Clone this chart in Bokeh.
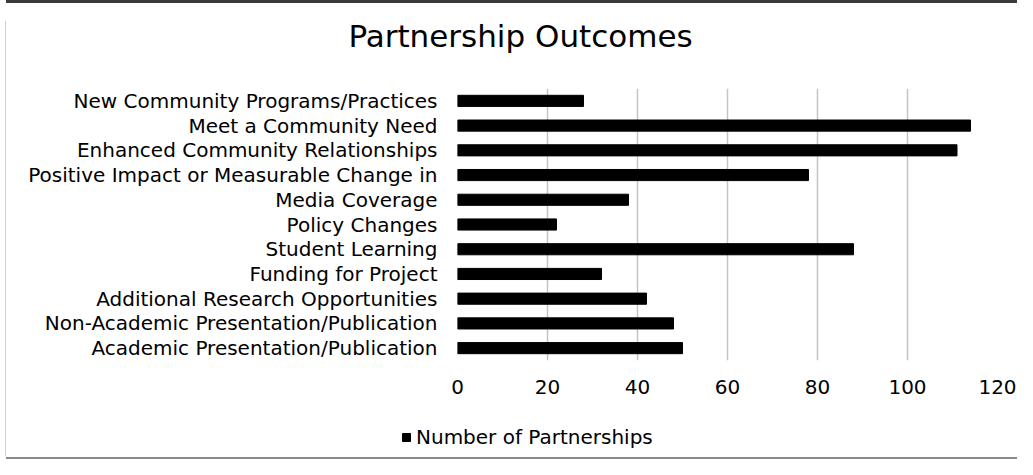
from bokeh.plotting import figure
from bokeh.models import FactorRange, Range1d, Legend, LegendItem, ColumnDataSource, Div, Label
from bokeh.layouts import column, row
from bokeh.embed import file_html
from bokeh.resources import INLINE

title_text = "Partnership Outcomes"
series_name = "Number of Partnerships"
categories = ["New Community Programs/Practices", "Meet a Community Need",
              "Enhanced Community Relationships", "Positive Impact or Measurable Change in",
              "Media Coverage", "Policy Changes", "Student Learning", "Funding for Project",
              "Additional Research Opportunities", "Non-Academic Presentation/Publication",
              "Academic Presentation/Publication"]
values = [28, 114, 111, 78, 38, 22, 88, 32, 42, 48, 50]
x_ticks = [0, 20, 40, 60, 80, 100, 120]

FONT = "DejaVu Sans"
BAR_COLOR = "black"

src = ColumnDataSource(dict(cat=categories, val=values))

# title strip (its own canvas so the title can sit where the reference puts it)
tf = figure(width=1011, height=60, output_backend="svg", toolbar_location=None,
            x_range=Range1d(0, 1), y_range=Range1d(0, 1), x_axis_type=None, y_axis_type=None,
            min_border=0, margin=0)
tf.outline_line_color = None
tf.border_fill_color = "white"
tf.background_fill_color = "white"
tf.add_layout(Label(x=514, y=28, x_units="screen", y_units="screen", text=title_text,
                    text_font=FONT, text_font_size="31px", text_color="black",
                    text_align="center", text_baseline="middle"))

p = figure(width=1011, height=342, output_backend="svg", toolbar_location=None,
           y_range=FactorRange(factors=list(reversed(categories)), range_padding=0),
           x_range=Range1d(0, 120),
           min_border_left=451, min_border_right=20, min_border_top=25, min_border_bottom=45,
           margin=0)

r = p.hbar(y="cat", right="val", left=0, height=0.45, source=src, color=BAR_COLOR)

p.outline_line_color = None
p.background_fill_color = "white"
p.border_fill_color = "white"

p.ygrid.grid_line_color = None
p.xgrid.grid_line_color = "#c4c4c4"
p.xgrid.grid_line_width = 1.5
p.xaxis.ticker = x_ticks

for ax in (p.xaxis, p.yaxis):
    ax.axis_line_color = None
    ax.major_tick_line_color = None
    ax.minor_tick_line_color = None
    ax.major_label_text_font = FONT
    ax.major_label_text_font_size = "20px"
    ax.major_label_text_color = "black"
p.xaxis.major_label_standoff = 13
p.yaxis.major_label_standoff = 14

# legend strip below the chart (a second canvas, so the legend is not clipped)
lg = figure(width=1011, height=52, output_backend="svg", toolbar_location=None,
            x_range=Range1d(-2, -1), y_range=FactorRange(factors=categories),
            x_axis_type=None, y_axis_type=None, min_border=0, margin=0)
lg.outline_line_color = None
lg.border_fill_color = "white"
lg.background_fill_color = "white"
legend_glyph = lg.hbar(y="cat", right="val", left=0, height=0.45, source=src, color=BAR_COLOR)

legend = Legend(items=[LegendItem(label=series_name, renderers=[legend_glyph])],
                location=(395, 8), orientation="horizontal",
                glyph_width=10, glyph_height=10, label_standoff=5,
                label_height=23, padding=0, margin=0,
                border_line_color=None, background_fill_alpha=0,
                label_text_font=FONT, label_text_font_size="20px", label_text_color="black")
lg.add_layout(legend, "center")

top_line = Div(text="", width=1011, height=3, margin=(0, 0, 0, 6), styles={"background-color": "#3a3a3a"})
bottom_line = Div(text="", width=1011, height=2, margin=(0, 0, 0, 6), styles={"background-color": "#8a8a8a"})
left_line_a = Div(text="", width=1, height=42, margin=(18, 0, 0, 5), styles={"background-color": "#cfcfcf"})
left_line_b = Div(text="", width=1, height=342, margin=(0, 0, 0, 5), styles={"background-color": "#cfcfcf"})
left_line_c = Div(text="", width=1, height=51, margin=(0, 0, 1, 5), styles={"background-color": "#cfcfcf"})

layout = column(top_line,
                row(left_line_a, tf, spacing=0, margin=0),
                row(left_line_b, column(p, spacing=0, margin=0), spacing=0, margin=0),
                row(left_line_c, lg, spacing=0, margin=0),
                bottom_line, spacing=0, margin=0)

open("out.html", "w").write(file_html(layout, INLINE))
